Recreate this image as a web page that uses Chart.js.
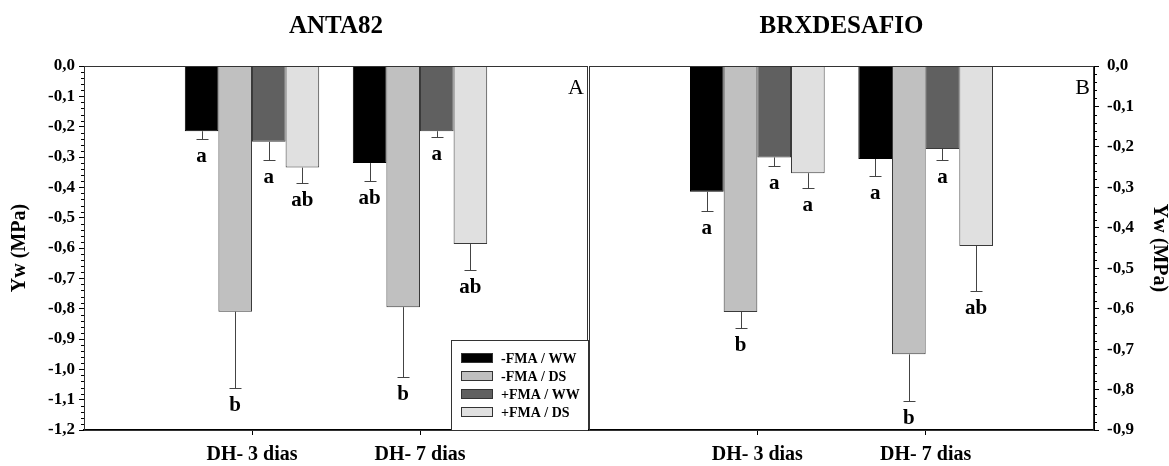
<!DOCTYPE html>
<html>
<head>
<meta charset="utf-8">
<script src="https://cdn.jsdelivr.net/npm/chart.js@4.4.0/dist/chart.umd.min.js"></script>
<style>
  body { margin: 0; background: #fff; }
  .panel { position: absolute; top: 0; height: 466px; }
  #boxA { left: 0; width: 589px; }
  #boxB { left: 585px; width: 584px; }
</style>
</head>
<body>
<div class="panel" id="boxA"><canvas id="chartA"></canvas></div>
<div class="panel" id="boxB"><canvas id="chartB"></canvas></div>
<script>
const categories = ['DH- 3 dias', 'DH- 7 dias'];
const seriesNames = ['-FMA / WW', '-FMA / DS', '+FMA / WW', '+FMA / DS'];

// ANTA82 (panel A)
const antaMinusWW = [-0.215, -0.32];
const antaMinusDS = [-0.81, -0.795];
const antaPlusWW = [-0.25, -0.215];
const antaPlusDS = [-0.335, -0.587];
const antaErrMinusWW = [0.025, 0.06];
const antaErrMinusDS = [0.25, 0.23];
const antaErrPlusWW = [0.06, 0.02];
const antaErrPlusDS = [0.052, 0.087];
const antaLetMinusWW = ['a', 'ab'];
const antaLetMinusDS = ['b', 'b'];
const antaLetPlusWW = ['a', 'a'];
const antaLetPlusDS = ['ab', 'ab'];

// BRXDESAFIO (panel B)
const brxMinusWW = [-0.311, -0.23];
const brxMinusDS = [-0.608, -0.713];
const brxPlusWW = [-0.226, -0.205];
const brxPlusDS = [-0.265, -0.445];
const brxErrMinusWW = [0.047, 0.041];
const brxErrMinusDS = [0.041, 0.115];
const brxErrPlusWW = [0.022, 0.027];
const brxErrPlusDS = [0.036, 0.111];
const brxLetMinusWW = ['a', 'a'];
const brxLetMinusDS = ['b', 'b'];
const brxLetPlusWW = ['a', 'a'];
const brxLetPlusDS = ['a', 'ab'];

const FONT = '"Liberation Serif", "Times New Roman", serif';
const fills = ['#000000', '#c0c0c0', '#606060', '#e0e0e0'];

// empty slots on both ends so the groups sit at 1/3 and 2/3 of the panel
const pad = arr => [null, ...arr, null];

function makeDatasets(values, errors, letters) {
  return seriesNames.map((name, s) => ({
    label: name,
    data: pad(values[s]),
    errors: pad(errors[s]),
    letters: pad(letters[s]),
    backgroundColor: fills[s],
    borderColor: s === 0 ? '#000' : '#3a3a3a',
    borderWidth: 1,
    barPercentage: 1,
    categoryPercentage: 0.8
  }));
}

const errorBars = {
  id: 'errorBars',
  afterDatasetsDraw(chart) {
    const ctx = chart.ctx;
    const yScale = chart.scales.y;
    ctx.save();
    chart.data.datasets.forEach((ds, d) => {
      const meta = chart.getDatasetMeta(d);
      meta.data.forEach((bar, i) => {
        const v = ds.data[i];
        if (v === null) return;
        const yEnd = Math.round(yScale.getPixelForValue(v - ds.errors[i])) + 0.5;
        const x = Math.round(bar.x) + 0.5;
        ctx.strokeStyle = '#444';
        ctx.lineWidth = 1;
        ctx.beginPath();
        ctx.moveTo(x, bar.y);
        ctx.lineTo(x, yEnd);
        ctx.moveTo(x - 6, yEnd);
        ctx.lineTo(x + 6, yEnd);
        ctx.stroke();
        ctx.fillStyle = '#000';
        ctx.font = 'bold 21px ' + FONT;
        ctx.textAlign = 'center';
        ctx.textBaseline = 'alphabetic';
        ctx.fillText(ds.letters[i], bar.x, yEnd + 22);
      });
    });
    ctx.restore();
  }
};

const frame = {
  id: 'frame',
  afterDraw(chart, args, opts) {
    const ctx = chart.ctx;
    const a = chart.chartArea;
    const yScale = chart.scales.y;
    ctx.save();
    ctx.strokeStyle = '#333';
    ctx.lineWidth = 1;
    ctx.strokeRect(Math.round(a.left) + 0.5, Math.round(a.top) + 0.5,
      Math.round(a.right - a.left) - 1, Math.round(a.bottom - a.top));

    // minor ticks every 0.02
    ctx.strokeStyle = '#000';
    ctx.beginPath();
    for (let k = 0; k <= Math.round(-yScale.min * 50); k++) {
      if (k % 5 === 0) continue;
      const y = Math.round(yScale.getPixelForValue(-k / 50)) + 0.5;
      if (opts.side === 'left') {
        ctx.moveTo(a.left, y); ctx.lineTo(a.left - 3, y);
      } else {
        ctx.moveTo(a.right, y); ctx.lineTo(a.right + 3, y);
      }
    }
    ctx.stroke();

    // panel letter
    ctx.fillStyle = '#000';
    ctx.font = '22px ' + FONT;
    ctx.textAlign = 'right';
    ctx.textBaseline = 'alphabetic';
    ctx.fillText(opts.letter, a.right - 4, a.top + 28);

    // legend box in the lower right corner
    if (opts.legend) {
      const w = 137, h = 90;
      const bx = Math.round(a.right) - w, by = Math.round(a.bottom) - h;
      ctx.fillStyle = '#fff';
      ctx.fillRect(bx, by, w, h);
      ctx.strokeStyle = '#333';
      ctx.strokeRect(bx + 0.5, by + 0.5, w, h);
      chart.data.datasets.forEach((ds, s) => {
        const cy = by + 18 + s * 18;
        ctx.fillStyle = ds.backgroundColor;
        ctx.fillRect(bx + 10, cy - 5, 32, 10);
        ctx.strokeStyle = '#333';
        ctx.strokeRect(bx + 10.5, cy - 4.5, 31, 9);
        ctx.fillStyle = '#000';
        ctx.font = 'bold 14px ' + FONT;
        ctx.textAlign = 'left';
        ctx.textBaseline = 'middle';
        ctx.fillText(ds.label, bx + 50, cy + 1);
      });
    }
    ctx.restore();
  }
};

function makeChart(id, title, datasets, yMin, side, letter, legend) {
  const leftSide = side === 'left';
  return new Chart(document.getElementById(id), {
    type: 'bar',
    data: { labels: pad(categories).map(c => c || ''), datasets },
    options: {
      responsive: true,
      maintainAspectRatio: false,
      animation: false,
      layout: { padding: leftSide ? { left: 0, right: 1, top: 0, bottom: 0 } : { left: 4, right: 0, top: 0, bottom: 0 } },
      scales: {
        x: {
          offset: false,
          afterFit: s => { s.height = 36; },
          grid: {
            offset: false,
            drawOnChartArea: false,
            drawTicks: true,
            tickLength: 5,
            tickColor: c => (c.index === 1 || c.index === 2) ? '#000' : 'rgba(0,0,0,0)'
          },
          border: { display: true, color: '#000', width: 1.5 },
          ticks: {
            font: { family: FONT, size: 20, weight: 'bold', lineHeight: 2 },
            color: '#000',
            padding: 0,
            maxRotation: 0,
            autoSkip: false
          }
        },
        y: {
          position: side,
          min: yMin,
          max: 0,
          afterFit: s => { s.width = leftSide ? 84 : 75; },
          ticks: {
            stepSize: 0.1,
            callback: v => v.toFixed(1).replace('.', ','),
            font: { family: FONT, size: 17, weight: 'bold' },
            color: '#000',
            padding: leftSide ? 4 : 8
          },
          grid: { drawOnChartArea: false, tickLength: 5, color: '#000' },
          border: { display: true, color: '#000' },
          title: {
            display: true,
            text: 'Yw (MPa)',
            font: { family: FONT, size: 20, weight: 'bold', lineHeight: 1 },
            color: '#000',
            padding: { top: leftSide ? 10 : 0, bottom: 0 }
          }
        }
      },
      plugins: {
        legend: { display: false },
        tooltip: { enabled: false },
        title: {
          display: true,
          text: title,
          fullSize: false,
          color: '#000',
          font: { family: FONT, size: 25, weight: 'bold', lineHeight: 1.2 },
          padding: { top: 12, bottom: 24 }
        },
        frame: { side, letter, legend }
      }
    },
    plugins: [errorBars, frame]
  });
}

makeChart('chartA', 'ANTA82',
  makeDatasets(
    [antaMinusWW, antaMinusDS, antaPlusWW, antaPlusDS],
    [antaErrMinusWW, antaErrMinusDS, antaErrPlusWW, antaErrPlusDS],
    [antaLetMinusWW, antaLetMinusDS, antaLetPlusWW, antaLetPlusDS]),
  -1.2, 'left', 'A', true);

makeChart('chartB', 'BRXDESAFIO',
  makeDatasets(
    [brxMinusWW, brxMinusDS, brxPlusWW, brxPlusDS],
    [brxErrMinusWW, brxErrMinusDS, brxErrPlusWW, brxErrPlusDS],
    [brxLetMinusWW, brxLetMinusDS, brxLetPlusWW, brxLetPlusDS]),
  -0.9, 'right', 'B', false);
</script>
</body>
</html>
